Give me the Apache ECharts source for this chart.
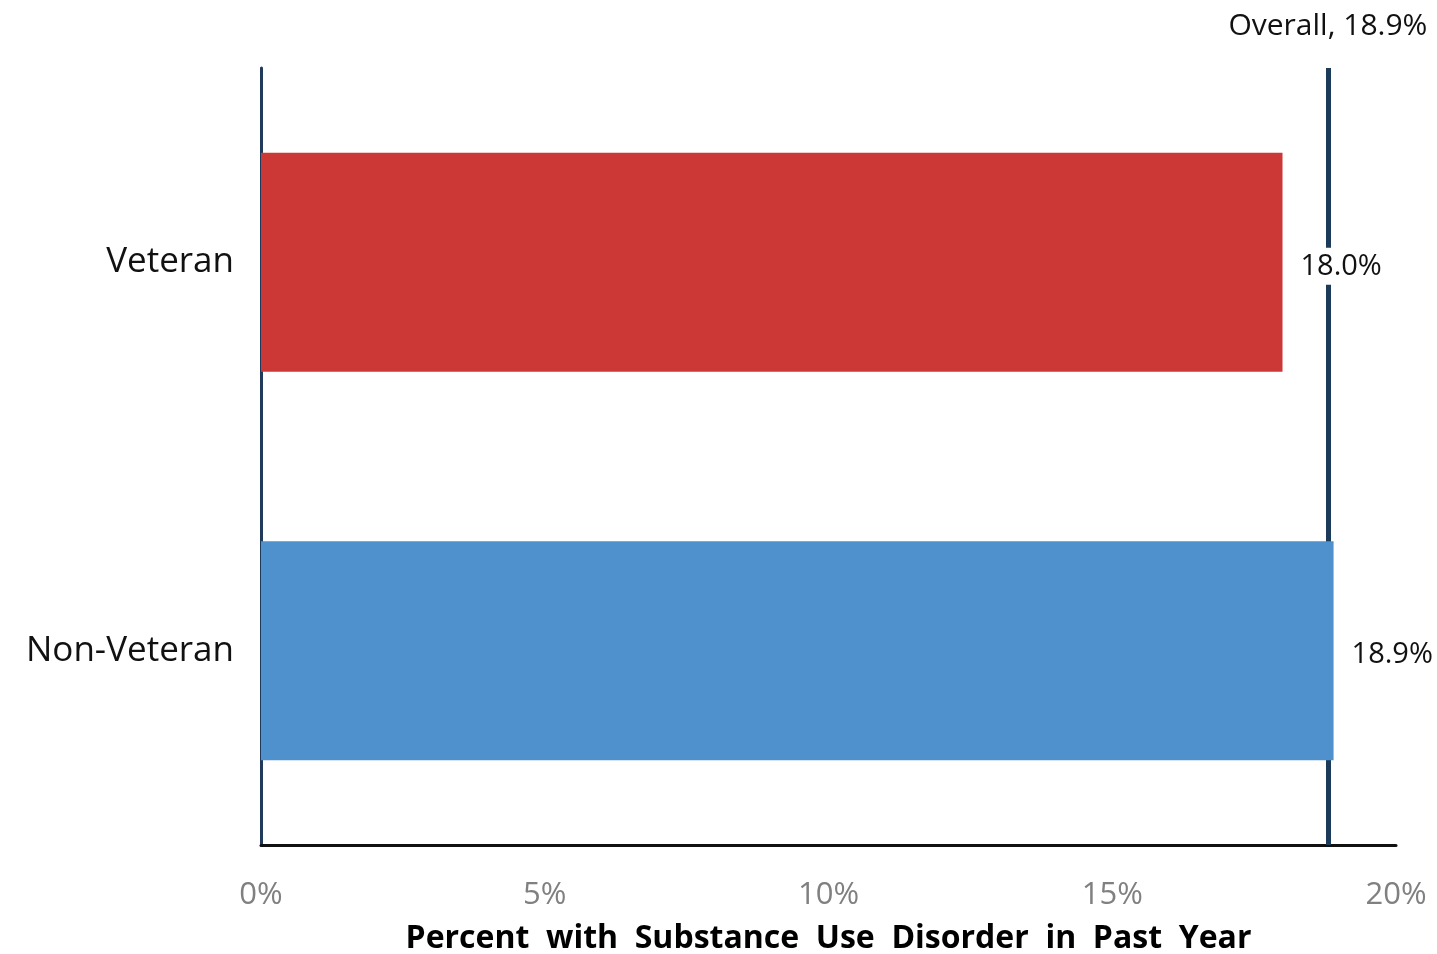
<!DOCTYPE html>
<html>
<head>
<meta charset="utf-8">
<script src="https://cdn.jsdelivr.net/npm/echarts@6/dist/echarts.min.js"></script>
<style>html,body{margin:0;padding:0;background:#fff}#c{width:1437px;height:954px}</style>
</head>
<body>
<div id="c"></div>
<script>
const categories = ['Veteran', 'Non-Veteran'];
const values = [18.0, 18.9];
const barColors = ['#cc3835', '#4f91cd'];
const overallValue = 18.8;
const overallLabel = 'Overall, 18.9%';
const xTicks = [0, 5, 10, 15, 20];
const xTitle = 'Percent  with  Substance  Use  Disorder  in  Past  Year';

const FONT = '"Open Sans", "Noto Sans", sans-serif';
const chart = echarts.init(document.getElementById('c'));
chart.setOption({
  animation: false,
  grid: { left: 261, right: 41, top: 68, bottom: 109, outerBoundsMode: 'none', containLabel: false },
  xAxis: {
    type: 'value', min: 0, max: 20, interval: 5,
    axisLine: { show: true, lineStyle: { color: '#111', width: 3 } },
    axisTick: { show: false },
    splitLine: { show: false },
    axisLabel: { formatter: v => v + '%', color: '#808080', fontSize: 31, fontFamily: FONT, margin: 35 },
    name: xTitle, nameLocation: 'middle', nameGap: 78,
    nameTextStyle: { fontSize: 32, fontWeight: 'bold', color: '#000', fontFamily: FONT }
  },
  yAxis: {
    type: 'category', data: categories, inverse: true,
    axisLine: { show: true, lineStyle: { color: '#1f3a5a', width: 3 } },
    axisTick: { show: false },
    axisLabel: { color: '#111', fontSize: 35, fontFamily: FONT, margin: 27 }
  },
  series: [{
    type: 'bar',
    data: values.map((v, i) => ({ value: v, itemStyle: { color: barColors[i] } })),
    barWidth: 219,
    z: 3,
    label: {
      show: true, position: 'right', distance: 14, offset: [0, 4],
      formatter: p => p.value.toFixed(1) + '%',
      color: '#111', fontSize: 29, fontFamily: FONT,
      backgroundColor: '#fff', padding: [4, 4]
    },
    markLine: {
      symbol: 'none', silent: true, z: 1,
      lineStyle: { color: '#1c3a5a', width: 5, type: 'solid' },
      label: { show: true, position: 'start', formatter: overallLabel, color: '#111', fontSize: 30, fontFamily: FONT, distance: 27 },
      data: [{ xAxis: overallValue }]
    }
  }]
});
</script>
</body>
</html>
